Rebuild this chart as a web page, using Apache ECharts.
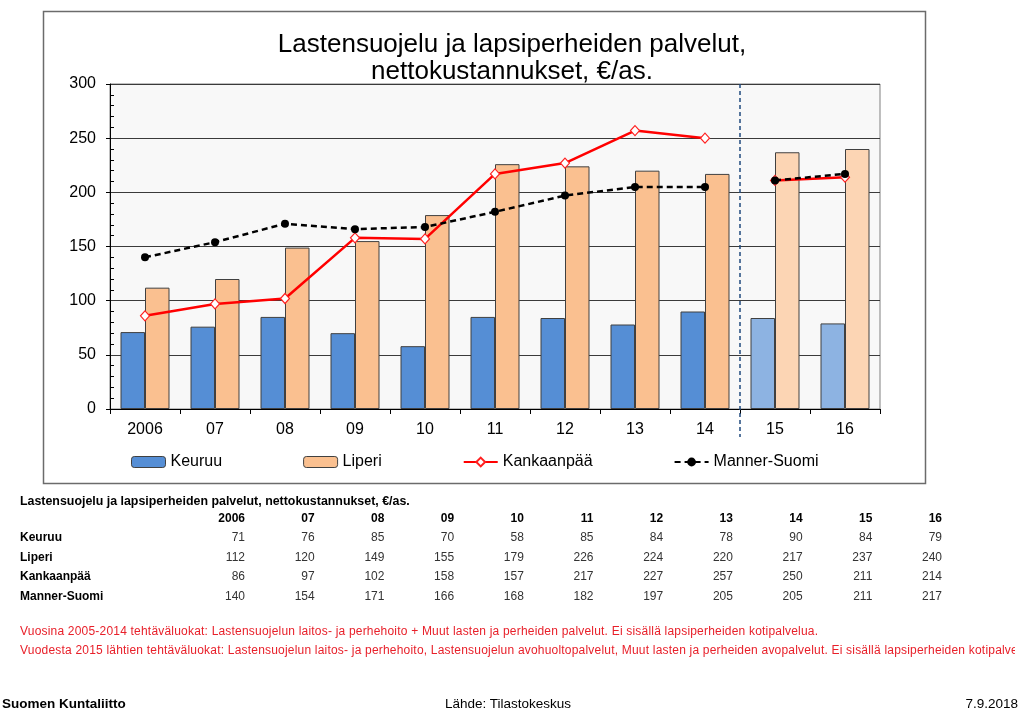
<!DOCTYPE html>
<html>
<head>
<meta charset="utf-8">
<script src="https://cdn.jsdelivr.net/npm/echarts@6/dist/echarts.min.js"></script>
<style>
  html, body { margin: 0; padding: 0; background: #fff; }
  body { width: 1024px; height: 714px; position: relative; overflow: hidden; font-family: 'Liberation Sans', Arial, sans-serif; }
  #chart { position: absolute; left: 0; top: 0; width: 1024px; height: 714px; }
  .t { position: absolute; white-space: nowrap; line-height: 1.4; }
</style>
</head>
<body>
<div id="chart"></div>
<div id="table"></div>
<script>
const categories = ['2006', '07', '08', '09', '10', '11', '12', '13', '14', '15', '16'];
const keuruu = [71, 76, 85, 70, 58, 85, 84, 78, 90, 84, 79];
const liperi = [112, 120, 149, 155, 179, 226, 224, 220, 217, 237, 240];
const kankaanpaa = [86, 97, 102, 158, 157, 217, 227, 257, 250, 211, 214];
const mannerSuomi = [140, 154, 171, 166, 168, 182, 197, 205, 205, 211, 217];
const yTicks = [0, 50, 100, 150, 200, 250, 300];
const breakIndex = 9; // first index of the new classification (2015)

const titleText = 'Lastensuojelu ja lapsiperheiden palvelut,\nnettokustannukset, €/as.';
const tableTitle = 'Lastensuojelu ja lapsiperheiden palvelut, nettokustannukset, €/as.';
const note1 = 'Vuosina 2005-2014 tehtäväluokat: Lastensuojelun laitos- ja perhehoito + Muut lasten ja perheiden palvelut. Ei sisällä lapsiperheiden kotipalvelua.';
const note2 = 'Vuodesta 2015 lähtien tehtäväluokat: Lastensuojelun laitos- ja perhehoito, Lastensuojelun avohuoltopalvelut, Muut lasten ja perheiden avopalvelut. Ei sisällä lapsiperheiden kotipalvelua.';

const FONT = "'Liberation Sans', Arial, sans-serif";

function barData(arr, c1, c2) {
  return arr.map((v, i) => ({ value: v, itemStyle: { color: i >= breakIndex ? c2 : c1 } }));
}
function part(arr, first) {
  return arr.map((v, i) => (first ? (i < breakIndex ? v : null) : (i >= breakIndex ? v : null)));
}

const chart = echarts.init(document.getElementById('chart'), null, { renderer: 'canvas' });

const redLine = {
  type: 'line', name: 'Kankaanpää', symbol: 'diamond', symbolSize: [9, 10],
  lineStyle: { color: '#ff0000', width: 2.5 },
  itemStyle: { color: '#ffffff', borderColor: '#ff2020', borderWidth: 1.2 },
  connectNulls: false, z: 5, animation: false
};
const blackLine = {
  type: 'line', name: 'Manner-Suomi', symbol: 'circle', symbolSize: 8,
  lineStyle: { color: '#000000', width: 2.5, type: [6, 4] },
  itemStyle: { color: '#000000' },
  connectNulls: false, z: 6, animation: false
};

chart.setOption({
  animation: false,
  textStyle: { fontFamily: FONT },
  title: {
    text: titleText,
    left: 507, top: 26, textAlign: 'center',
    textStyle: { fontFamily: FONT, fontSize: 26, fontWeight: 'normal', color: '#000', lineHeight: 27 }
  },
  legend: {
    left: 126, top: 449,
    itemWidth: 34, itemHeight: 11, itemGap: 81,
    textStyle: { fontFamily: FONT, fontSize: 16, color: '#000' },
    data: [
      { name: 'Keuruu', itemStyle: { color: '#558ed5', borderColor: '#404040', borderWidth: 1 } },
      { name: 'Liperi', itemStyle: { color: '#fac090', borderColor: '#404040', borderWidth: 1 } },
      { name: 'Kankaanpää' },
      { name: 'Manner-Suomi' }
    ]
  },
  grid: {
    left: 110, top: 84, width: 770, height: 325,
    show: true, backgroundColor: '#f8f8f8', borderColor: '#808080', borderWidth: 1
  },
  xAxis: {
    type: 'category', data: categories,
    axisLine: { lineStyle: { color: '#000', width: 1 } },
    axisTick: { show: true, alignWithLabel: false, length: 5, lineStyle: { color: '#000' } },
    axisLabel: { fontFamily: FONT, fontSize: 16, color: '#000', margin: 13 },
    splitLine: { show: false }
  },
  yAxis: [
    {
      type: 'value', min: 0, max: 300, interval: 50,
      axisLine: { show: true, lineStyle: { color: '#000', width: 1 } },
      axisTick: { show: true, length: 4, lineStyle: { color: '#000' } },
      axisLabel: { fontFamily: FONT, fontSize: 16, color: '#000', margin: 14,
        formatter: v => (yTicks.indexOf(v) >= 0 ? String(v) : '') },
      splitLine: { show: true, lineStyle: { color: '#3a3a3a', width: 1 } }
    },
    {
      type: 'value', min: 0, max: 300, interval: 50, position: 'left',
      axisLine: { show: false },
      axisTick: { show: false, inside: true },
      minorTick: { show: true, splitNumber: 5, length: 4, lineStyle: { color: '#000' } },
      axisLabel: { show: false },
      splitLine: { show: false }
    }
  ],
  series: [
    {
      type: 'bar', name: 'Keuruu', data: barData(keuruu, '#558ed5', '#8db3e2'),
      barGap: '0%', barCategoryGap: '30%',
      itemStyle: { borderColor: '#404040', borderWidth: 1 }
    },
    {
      type: 'bar', name: 'Liperi', data: barData(liperi, '#fac090', '#fcd5b4'),
      barGap: '0%', barCategoryGap: '30%',
      itemStyle: { borderColor: '#404040', borderWidth: 1 }
    },
    Object.assign({}, redLine, { data: part(kankaanpaa, true) }),
    Object.assign({}, redLine, { data: part(kankaanpaa, false) }),
    Object.assign({}, blackLine, { data: part(mannerSuomi, true) }),
    Object.assign({}, blackLine, { data: part(mannerSuomi, false) })
  ]
});

// Frame and classification-change divider, positioned from the axes' scales
const xA = chart.convertToPixel({ xAxisIndex: 0 }, categories[breakIndex - 1]);
const xB = chart.convertToPixel({ xAxisIndex: 0 }, categories[breakIndex]);
const yTop = chart.convertToPixel({ yAxisIndex: 0 }, 300);
const yBot = chart.convertToPixel({ yAxisIndex: 0 }, 0);
const xDiv = (xA + xB) / 2;
chart.setOption({
  graphic: [
    { type: 'rect', shape: { x: 43.5, y: 11.5, width: 882, height: 472 }, style: { fill: 'none', stroke: '#6b6b6b', lineWidth: 1.5 }, silent: true, z: -1 },
    { type: 'line', shape: { x1: xDiv, y1: yTop, x2: xDiv, y2: yBot + 28 }, style: { stroke: '#1f497d', lineWidth: 1.5, lineDash: [4, 3] }, silent: true, z: 10 }
  ]
});

// Data table below the chart, built from the same arrays
const tbl = document.getElementById('table');
function addText(txt, x, yc, opts) {
  const s = document.createElement('div');
  s.className = 't';
  s.textContent = txt;
  const fs = opts.size || 12;
  s.style.fontSize = fs + 'px';
  s.style.top = (yc - fs * 0.7) + 'px';
  if (opts.right) { s.style.right = (1024 - x) + 'px'; } else { s.style.left = x + 'px'; }
  if (opts.bold) s.style.fontWeight = 'bold';
  if (opts.ls) s.style.letterSpacing = opts.ls + 'px';
  s.style.color = opts.color || '#000';
  if (opts.maxWidth) { s.style.width = opts.maxWidth + 'px'; s.style.overflow = 'hidden'; }
  tbl.appendChild(s);
}
addText(tableTitle, 20, 502, { size: 12.4, bold: true });
const colRight = categories.map((c, i) => 245 + i * 69.7);
const rowY = [518, 537, 557, 576, 596];
categories.forEach((c, i) => addText(c, colRight[i], rowY[0], { bold: true, right: true }));
const rows = [['Keuruu', keuruu], ['Liperi', liperi], ['Kankaanpää', kankaanpaa], ['Manner-Suomi', mannerSuomi]];
rows.forEach((r, ri) => {
  addText(r[0], 20, rowY[ri + 1], { bold: true });
  r[1].forEach((v, i) => addText(String(v), colRight[i], rowY[ri + 1], { color: '#333', right: true }));
});
addText(note1, 20, 631, { size: 12, color: '#e8202a', ls: 0.2 });
addText(note2, 20, 650, { size: 12, color: '#e8202a', ls: 0.2, maxWidth: 995 });
addText('Suomen Kuntaliitto', 2, 704, { bold: true, size: 13.5 });
addText('Lähde: Tilastokeskus', 445, 704, { size: 13.5 });
addText('7.9.2018', 1018, 704, { right: true, size: 13.5 });
</script>
</body>
</html>
